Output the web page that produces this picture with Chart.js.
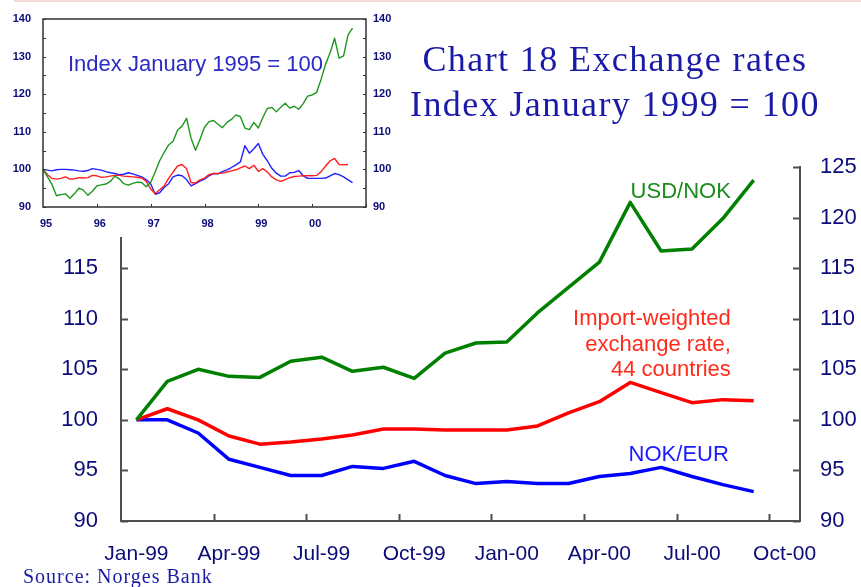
<!DOCTYPE html>
<html>
<head>
<meta charset="utf-8">
<script src="https://cdn.jsdelivr.net/npm/chart.js@4"></script>
<style>
  body { margin: 0; background: #fff; }
  .wrap { position: relative; width: 861px; height: 587px; overflow: hidden; background: #fff; }
  #main { position: absolute; left: 0; top: 0; }
  #inset { position: absolute; left: 0; top: 0; background: #fff; }
  .topline { position: absolute; left: 14px; top: 0; width: 847px; height: 2px; background: #f2d8d8; }
  .title {
    position: absolute; left: 400px; top: 37px; width: 430px;
    text-align: center; font-family: "Liberation Serif", "Times New Roman", serif;
    font-size: 36px; line-height: 45px; letter-spacing: 1.4px; color: #1a1aa6;
  }
  .source {
    position: absolute; left: 23px; top: 566px;
    font-family: "Liberation Serif", "Times New Roman", serif;
    font-size: 20px; line-height: 20px; letter-spacing: 1px; color: #1a1aa6;
  }
</style>
</head>
<body>
<div class="wrap">
  <canvas id="main" width="861" height="587"></canvas>
  <canvas id="inset" width="400" height="237"></canvas>
  <div class="topline"></div>
  <div class="title">Chart 18 Exchange rates<br>Index January 1999 = 100</div>
  <div class="source">Source: Norges Bank</div>
</div>
<script>
// main chart: monthly, Jan-99 .. Oct-00 (index Jan 1999 = 100)
const mainMonths = ["Jan-99", "Feb-99", "Mar-99", "Apr-99", "May-99", "Jun-99",
  "Jul-99", "Aug-99", "Sep-99", "Oct-99", "Nov-99", "Dec-99",
  "Jan-00", "Feb-00", "Mar-00", "Apr-00", "May-00", "Jun-00",
  "Jul-00", "Aug-00", "Sep-00", "Oct-00"];
const usdNok = [100, 103.8, 105.0, 104.3, 104.2, 105.8, 106.2, 104.8, 105.2, 104.1, 106.6,
  107.6, 107.7, 110.6, 113.1, 115.6, 121.5, 116.7, 116.9, 119.9, 123.7];
const importWeighted = [100, 101.1, 100.0, 98.4, 97.6, 97.8, 98.1, 98.5, 99.1, 99.1, 99.0,
  99.0, 99.0, 99.4, 100.7, 101.8, 103.7, 102.7, 101.7, 102.0, 101.9];
const nokEur = [100, 100.0, 98.7, 96.1, 95.3, 94.5, 94.5, 95.4, 95.2, 95.9, 94.5,
  93.7, 93.9, 93.7, 93.7, 94.4, 94.7, 95.3, 94.4, 93.6, 92.9];
const mainYTicks = [90, 95, 100, 105, 110, 115, 120, 125];

// inset: monthly, Jan 95 .. Jan 01 (index January 1995 = 100)
const insetYears = ["95", "96", "97", "98", "99", "00"];
const monthNames = ["Jan", "Feb", "Mar", "Apr", "May", "Jun", "Jul", "Aug", "Sep", "Oct", "Nov", "Dec"];
const insetMonths = [];
insetYears.forEach(yr => monthNames.forEach(m => insetMonths.push(m + "-" + yr)));
insetMonths.push("Jan-01");
const insetUsdNok = [100, 98, 96, 93, 93.3, 93.5, 92.3, 93.5, 95, 94.5,
  93.1, 94.2, 95.6, 95.9, 96.1, 96.8, 98.2, 97.5, 96.2, 95.8,
  96.3, 96.6, 96.5, 95.4, 96.5, 99.3, 102.3, 104.5, 106.5, 107.5,
  110.5, 111.5, 113.6, 108.3, 105.1, 108, 111.2, 112.7, 113, 112,
  111.1, 112.5, 113.3, 114.5, 114, 111, 110.6, 112.5, 111, 113.8,
  116.2, 116.5, 115.3, 116.5, 117.6, 116.3, 116.8, 116, 117.5, 119.5,
  119.8, 120.5, 124, 128, 131, 134.9, 129.6, 130.2, 135.8, 137.6];
const insetImport = [100, 98.6, 97.6, 97.4, 97.6, 98, 97.4, 97.5, 97.8, 97.7,
  97.8, 98.4, 98.3, 97.9, 98, 98.2, 98.4, 98.4, 98.2, 98.1,
  98, 97.9, 97.7, 96.8, 94.8, 93.6, 94.6, 95.6, 97.6, 99.3,
  100.9, 101.3, 100.2, 96.5, 96.4, 97.2, 97.7, 98.6, 98.9, 98.9,
  99, 99.3, 99.6, 99.9, 100.4, 100.9, 100.2, 101.1, 99.5, 100.2,
  99.3, 98, 97.2, 96.8, 97.3, 97.8, 98.1, 98.2, 98.3, 98.3,
  98.3, 98.4, 99.4, 100.9, 102.3, 102.9, 101.3, 101.2, 101.3];
const insetNokEur = [100, 99.8, 99.6, 99.9, 100, 100, 99.9, 99.8, 99.6, 99.5,
  99.7, 100.2, 100, 99.8, 99.4, 99.1, 98.9, 98.6, 98.7, 99.1,
  98.8, 98.4, 98, 97.3, 96.2, 93.4, 93.8, 95.2, 96.2, 98,
  98.5, 98.3, 97.3, 95.6, 96.2, 96.9, 97.4, 98.3, 98.9, 98.8,
  99.4, 99.9, 100.5, 101.2, 102, 106.3, 104.3, 105.5, 106.9, 104,
  102.3, 100.3, 99, 98.2, 98.2, 99.1, 99.2, 99.7, 98.3, 97.6,
  97.6, 97.6, 97.6, 97.7, 98.3, 98.9, 98.6, 98, 97.2, 96.5];

const SANS = "'Liberation Sans', Arial, sans-serif";
const NAVY = "#0c0c78";
const AXIS = "#505050";

// small tick marks pointing into the plot, plus optional frame
const innerTicks = {
  id: "innerTicks",
  afterDraw(chart, args, o) {
    const { ctx, chartArea: a, scales } = chart;
    const ys = scales.y, xs = scales.x;
    ctx.save();
    ctx.strokeStyle = o.color;
    ctx.lineWidth = o.width;
    ctx.beginPath();
    for (let v = ys.min; v <= ys.max; v += o.yStep) {
      const py = Math.round(ys.getPixelForValue(v)) + 0.5;
      ctx.moveTo(a.left, py); ctx.lineTo(a.left + o.len, py);
      ctx.moveTo(a.right, py); ctx.lineTo(a.right - o.len, py);
    }
    const n = xs.getLabels().length;
    for (let i = o.xEvery; i < n; i += o.xEvery) {
      let px = xs.getPixelForValue(i);
      if (o.boundary) px = (px + xs.getPixelForValue(i - 1)) / 2;
      px = Math.round(px) + 0.5;
      ctx.moveTo(px, a.bottom); ctx.lineTo(px, a.bottom - o.len);
    }
    ctx.stroke();
    if (o.frame) {
      ctx.lineWidth = o.frame;
      ctx.strokeRect(a.left, a.top, a.right - a.left, a.bottom - a.top);
    }
    ctx.restore();
  }
};

const mainNotes = {
  id: "mainNotes",
  afterDatasetsDraw(chart) {
    const { ctx, scales: { x, y } } = chart;
    const right = x.getPixelForValue(19) + 8;
    ctx.save();
    ctx.font = "22px " + SANS;
    ctx.textAlign = "right";
    ctx.textBaseline = "alphabetic";
    ctx.fillStyle = "#1b8c1b";
    ctx.fillText("USD/NOK", right, y.getPixelForValue(121.9));
    ctx.fillStyle = "#ff2a1a";
    ctx.fillText("Import-weighted", right, y.getPixelForValue(109.4));
    ctx.fillText("exchange rate,", right, y.getPixelForValue(106.8));
    ctx.fillText("44 countries", right, y.getPixelForValue(104.3));
    ctx.fillStyle = "#1a1aff";
    ctx.fillText("NOK/EUR", right - 2, y.getPixelForValue(95.9));
    ctx.restore();
  }
};

const insetNote = {
  id: "insetNote",
  afterDatasetsDraw(chart) {
    const { ctx, chartArea: a, scales: { y } } = chart;
    ctx.save();
    ctx.font = "22px " + SANS;
    ctx.fillStyle = "#2a2ac4";
    ctx.textBaseline = "alphabetic";
    ctx.fillText("Index January 1995 = 100", a.left + 25, y.getPixelForValue(126.3));
    ctx.restore();
  }
};

function line(label, data, color, width) {
  return { label, data, borderColor: color, backgroundColor: color, borderWidth: width,
    pointRadius: 0, tension: 0, fill: false, borderJoinStyle: "round" };
}

function yAxis(pos, min, max, step, pad, size, bold, width, show) {
  return {
    position: pos, min, max,
    grid: { display: false, drawTicks: false },
    border: { display: show, color: AXIS, width: 2 },
    ticks: { stepSize: step, padding: pad, color: NAVY,
      font: { family: SANS, size, weight: bold ? "bold" : "normal" } },
    afterFit(s) { s.width = width; }
  };
}

new Chart(document.getElementById("main"), {
  type: "line",
  data: {
    labels: mainMonths,
    datasets: [
      line("USD/NOK", usdNok, "#008000", 3.5),
      line("Import-weighted exchange rate, 44 countries", importWeighted, "#ff0000", 3.5),
      line("NOK/EUR", nokEur, "#0000ff", 3.5)
    ]
  },
  options: {
    responsive: false,
    animation: false,
    devicePixelRatio: 1,
    layout: { padding: { top: 167, left: 0, right: 0, bottom: 0 } },
    plugins: {
      legend: { display: false },
      tooltip: { enabled: false },
      innerTicks: { color: AXIS, width: 2, len: 7, yStep: 5, xEvery: 3, boundary: true, frame: 0 }
    },
    scales: {
      x: {
        offset: true,
        grid: { display: false, drawTicks: false },
        border: { display: true, color: AXIS, width: 2 },
        ticks: {
          autoSkip: false, maxRotation: 0, padding: 21, color: NAVY,
          font: { family: SANS, size: 21 },
          callback(v, i) { return i % 3 === 0 ? mainMonths[i] : ""; }
        },
        afterFit(s) { s.height = 66; }
      },
      y: yAxis("left", mainYTicks[0], mainYTicks[mainYTicks.length - 1], 5, 23, 22, false, 121, true),
      y2: yAxis("right", mainYTicks[0], mainYTicks[mainYTicks.length - 1], 5, 20, 22, false, 61, true)
    }
  },
  plugins: [innerTicks, mainNotes]
});

new Chart(document.getElementById("inset"), {
  type: "line",
  data: {
    labels: insetMonths,
    datasets: [
      line("USD/NOK", insetUsdNok, "#1e961e", 1.4),
      line("Import-weighted", insetImport, "#ff2020", 1.4),
      line("NOK/EUR", insetNokEur, "#2020ff", 1.4)
    ]
  },
  options: {
    responsive: false,
    animation: false,
    devicePixelRatio: 1,
    layout: { padding: { top: 19, left: 0, right: 0, bottom: 0 } },
    plugins: {
      legend: { display: false },
      tooltip: { enabled: false },
      innerTicks: { color: "#333", width: 1, len: 3, yStep: 5, xEvery: 12, boundary: false, frame: 1.5 }
    },
    scales: {
      x: {
        offset: false,
        grid: { display: false, drawTicks: false },
        border: { display: false },
        ticks: {
          autoSkip: false, maxRotation: 0, padding: 10, labelOffset: 3, color: NAVY,
          font: { family: SANS, size: 11, weight: "bold" },
          callback(v, i) { return i % 12 === 0 && i / 12 < insetYears.length ? insetYears[i / 12] : ""; }
        },
        afterFit(s) { s.height = 30; }
      },
      y: yAxis("left", 90, 140, 10, 12, 11, true, 43, false),
      y2: yAxis("right", 90, 140, 10, 7, 11, true, 34, false)
    }
  },
  plugins: [innerTicks, insetNote]
});
</script>
</body>
</html>
